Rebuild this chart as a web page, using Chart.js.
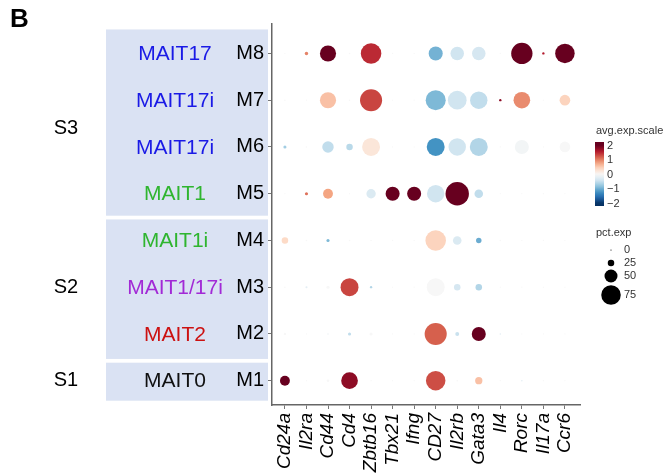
<!DOCTYPE html>
<html>
<head>
<meta charset="utf-8">
<script src="https://cdn.jsdelivr.net/npm/chart.js@4"></script>
<style>
  body { margin: 0; background: #fff; }
  canvas { display: block; }
</style>
</head>
<body>
<canvas id="dotplot" width="672" height="475"></canvas>
<script>
// data

const genes = ['Cd24a', 'Il2ra', 'Cd44', 'Cd4', 'Zbtb16', 'Tbx21', 'Ifng', 'CD27', 'Il2rb', 'Gata3', 'Il4', 'Rorc', 'Il17a', 'Ccr6']
const clusters = ['M1', 'M2', 'M3', 'M4', 'M5', 'M6', 'M7', 'M8']
const cellTypes = ['MAIT0', 'MAIT2', 'MAIT1/17i', 'MAIT1i', 'MAIT1', 'MAIT17i', 'MAIT17i', 'MAIT17']
const subsets = ['S1', 'S2', 'S3']
const colorTicks = [2, 1, 0, -1, -2]
const sizeTicks = [0, 25, 50, 75]

// percent of cells expressing, per cluster (one value per gene)
const pctM1 = [38, 4, 10, 64, 5, 4, 4, 75, 6, 28, 5, 6, 4, 4]
const pctM2 = [9, 4, 6, 12, 12, 4, 4, 85, 15, 54, 6, 4, 4, 4]
const pctM3 = [6, 8, 12, 69, 9, 4, 4, 69, 25, 25, 4, 4, 4, 4]
const pctM4 = [25, 6, 12, 6, 6, 4, 4, 79, 33, 21, 6, 4, 4, 4]
const pctM5 = [4, 12, 38, 4, 36, 54, 54, 67, 90, 33, 4, 4, 4, 4]
const pctM6 = [12, 6, 44, 25, 69, 4, 4, 69, 67, 69, 5, 54, 5, 41]
const pctM7 = [6, 3, 62, 6, 85, 4, 4, 77, 72, 67, 9, 64, 4, 41]
const pctM8 = [4, 13, 62, 6, 79, 4, 4, 54, 52, 52, 4, 82, 9, 75]

// scaled average expression, per cluster
const avgM1 = [2, 0, 0, 1.8, 0, 0, 0, 1.3, 0, 0.6, 0, -0.2, 0, 0]
const avgM2 = [0, 0, -0.1, -0.5, 0, 0, 0, 1.2, -0.45, 2, -0.2, 0, 0, 0]
const avgM3 = [0, -0.2, 0, 1.35, -0.6, 0, 0, 0, -0.35, -0.6, 0, 0, 0, 0]
const avgM4 = [0.4, 0, -0.9, 0, 0, 0, 0, 0.45, -0.3, -1.0, 0, 0, 0, 0]
const avgM5 = [0, 1.1, 0.8, 0, -0.3, 2, 2, -0.4, 2, -0.5, 0, 0, 0, 0]
const avgM6 = [-0.7, 0, -0.5, -0.55, 0.25, 0, 0, -1.2, -0.4, -0.6, 0, -0.05, 0, 0]
const avgM7 = [0, 0, 0.6, 0, 1.35, 0, 0, -0.9, -0.4, -0.5, 1.8, 0.95, 0, 0.45]
const avgM8 = [0, 1.0, 2, 0, 1.5, 0, 0, -0.95, -0.4, -0.35, 0, 2, 1.6, 2]

const pctRows = [pctM1, pctM2, pctM3, pctM4, pctM5, pctM6, pctM7, pctM8]
const avgRows = [avgM1, avgM2, avgM3, avgM4, avgM5, avgM6, avgM7, avgM8]

// styles

const cellColors = ['#111111', '#cc1111', '#a22ad6', '#2fb52f', '#2fb52f', '#1a1ae6', '#1a1ae6', '#1a1ae6']
const panelColor = '#dae2f3'
const rdbu = ['#053061', '#2166ac', '#4393c3', '#92c5de', '#d1e5f0', '#f7f7f7',
              '#fddbc7', '#f4a582', '#d6604d', '#b2182b', '#67001f']

function hexToRgb(h) {
  return [1, 3, 5].map(i => parseInt(h.slice(i, i + 2), 16))
}

function expColor(v) {
  v = Math.max(-2, Math.min(2, v))
  const t = (v + 2) / 4 * (rdbu.length - 1)
  const i = Math.min(Math.floor(t), rdbu.length - 2)
  const f = t - i
  const a = hexToRgb(rdbu[i]), b = hexToRgb(rdbu[i + 1])
  const c = a.map((x, k) => Math.round(x + (b[k] - x) * f))
  return `rgb(${c[0]},${c[1]},${c[2]})`
}

function dotRadius(pct) {
  return Math.max(0.6, pct * 0.13)
}

// build the points from the arrays
const points = []
clusters.forEach((c, row) => {
  genes.forEach((g, col) => {
    points.push({ x: col, y: row, pct: pctRows[row][col], avg: avgRows[row][col] })
  })
})

// panels, group labels and legends drawn by hand
const sidePanels = {
  id: 'sidePanels',
  beforeDraw(chart) {
    const ctx = chart.ctx
    const y = chart.scales.y
    ctx.save()
    ctx.fillStyle = panelColor
    const blocks = [
      [y.getPixelForValue(7) - 24, y.getPixelForValue(4) + 22],
      [y.getPixelForValue(3) - 21, y.getPixelForValue(1) + 25],
      [y.getPixelForValue(0) - 18, y.getPixelForValue(0) + 20]
    ]
    blocks.forEach(b => ctx.fillRect(106, b[0], 162, b[1] - b[0]))
    ctx.restore()
  },
  afterDraw(chart) {
    const ctx = chart.ctx
    const y = chart.scales.y
    ctx.save()
    ctx.textBaseline = 'middle'

    ctx.font = 'bold 26px Arial, "Liberation Sans"'
    ctx.fillStyle = '#000'
    ctx.textAlign = 'left'
    ctx.fillText('B', 10, 20)

    ctx.font = '21px Arial, "Liberation Sans"'
    ctx.textAlign = 'center'
    cellTypes.forEach((t, i) => {
      ctx.fillStyle = cellColors[i]
      ctx.fillText(t, 175, y.getPixelForValue(i) + 1)
    })

    ctx.font = '20px Arial, "Liberation Sans"'
    ctx.fillStyle = '#000'
    const subsetRows = [0, 2, 5.4]
    subsets.forEach((s, i) => ctx.fillText(s, 66, y.getPixelForValue(subsetRows[i])))

    // colour legend
    ctx.font = '11px Arial, "Liberation Sans"'
    ctx.fillStyle = '#333'
    ctx.textAlign = 'left'
    ctx.fillText('avg.exp.scale', 596, 131)
    const top = 142, bot = 206, mid = 174.5, step = 14.5
    const grad = ctx.createLinearGradient(0, top, 0, bot)
    for (let k = 0; k <= 20; k++) {
      const v = (mid - (top + (bot - top) * k / 20)) / step
      grad.addColorStop(k / 20, expColor(v))
    }
    ctx.fillStyle = grad
    ctx.fillRect(595, top, 9, bot - top)
    ctx.fillStyle = '#333'
    colorTicks.forEach(v => {
      ctx.fillText(v < 0 ? '\u2212' + Math.abs(v) : String(v), 607, mid - v * step)
    })

    // size legend
    ctx.fillText('pct.exp', 596, 233)
    const sizeY = [250, 263, 276, 295]
    sizeTicks.forEach((p, i) => {
      ctx.fillStyle = '#000'
      ctx.beginPath()
      ctx.arc(611, sizeY[i], dotRadius(p), 0, Math.PI * 2)
      ctx.fill()
      ctx.fillStyle = '#333'
      ctx.fillText(String(p), 624, sizeY[i])
    })
    ctx.restore()
  }
}

const chart = new Chart(document.getElementById('dotplot'), {
  type: 'scatter',
  data: {
    datasets: [{
      data: points,
      pointRadius: ctx => dotRadius(ctx.raw.pct),
      pointHoverRadius: ctx => dotRadius(ctx.raw.pct),
      backgroundColor: ctx => expColor(ctx.raw.avg),
      borderWidth: 0
    }]
  },
  options: {
    responsive: false,
    devicePixelRatio: 1,
    animation: false,
    events: [],
    layout: { padding: { top: 24, right: 92, left: 0, bottom: 0 } },
    plugins: {
      legend: { display: false },
      tooltip: { enabled: false }
    },
    scales: {
      x: {
        type: 'linear',
        min: -0.6,
        max: 13.7,
        afterBuildTicks: s => { s.ticks = genes.map((g, i) => ({ value: i })) },
        afterFit: s => { s.height = 70 },
        grid: { drawOnChartArea: false, drawTicks: true, tickLength: 4, color: '#777' },
        border: { display: true, color: '#666', width: 1.5 },
        ticks: {
          autoSkip: false,
          minRotation: 90,
          maxRotation: 90,
          padding: 4,
          color: '#000',
          font: { family: 'Arial, "Liberation Sans"', size: 19, style: 'italic' },
          callback: v => genes[v]
        }
      },
      y: {
        type: 'linear',
        min: -0.52,
        max: 7.63,
        afterBuildTicks: s => { s.ticks = clusters.map((c, i) => ({ value: i })) },
        afterFit: s => { s.width = 272 },
        grid: { drawOnChartArea: false, drawTicks: true, tickLength: 4, color: '#777' },
        border: { display: true, color: '#666', width: 1.5 },
        ticks: {
          padding: 4,
          color: '#000',
          font: { family: 'Arial, "Liberation Sans"', size: 20 },
          callback: v => clusters[v]
        }
      }
    }
  },
  plugins: [sidePanels]
})
</script>
</body>
</html>
